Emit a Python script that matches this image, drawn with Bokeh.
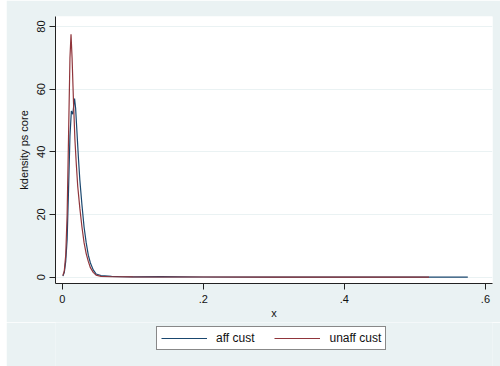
from bokeh.plotting import figure
from bokeh.models import FixedTicker, Legend, LegendItem
from bokeh.layouts import column
from bokeh.embed import file_html
from bokeh.resources import INLINE

# Kernel density of pscore, affected customers
aff_x = [0.001, 0.003, 0.005, 0.007, 0.009, 0.011, 0.013, 0.015, 0.0175, 0.019,
         0.021, 0.023, 0.025, 0.028, 0.031, 0.034, 0.037, 0.040, 0.044, 0.048,
         0.055, 0.060, 0.070, 0.085, 0.100, 0.140, 0.200, 0.300, 0.400, 0.500, 0.575]
aff_y = [0.3, 1.5, 5.0, 12.0, 28.0, 45.0, 53.0, 52.0, 57.0, 54.0,
         46.0, 38.0, 31.0, 23.0, 16.0, 11.0, 7.0, 4.5, 2.3, 1.0,
         0.5, 0.4, 0.2, 0.1, 0.05, 0.15, 0.02, 0.01, 0.01, 0.0, 0.0]

# Kernel density of pscore, unaffected customers
unaff_x = [0.001, 0.003, 0.005, 0.007, 0.009, 0.011, 0.0125, 0.014, 0.016, 0.018,
           0.020, 0.022, 0.025, 0.028, 0.031, 0.034, 0.037, 0.040, 0.044, 0.048,
           0.055, 0.070, 0.100, 0.200, 0.300, 0.400, 0.520]
unaff_y = [0.5, 2.0, 7.0, 20.0, 45.0, 70.0, 77.5, 70.0, 56.0, 44.0,
           36.0, 29.0, 22.0, 16.0, 11.0, 7.5, 5.0, 3.0, 1.5, 0.6,
           0.2, 0.1, 0.05, 0.02, 0.01, 0.0, 0.0]

x_ticks = [0, 0.2, 0.4, 0.6]
x_tick_labels = ["0", ".2", ".4", ".6"]
y_ticks = [0, 20, 40, 60, 80]
series_names = ["aff cust", "unaff cust"]

FONT = "Liberation Sans"
BG = "#eaf2f3"
NAVY = "#1a476f"
MAROON = "#90353b"

# ---- main chart ----
p = figure(width=494, height=322, output_backend="svg", toolbar_location=None,
           x_range=(-0.0095, 0.610), y_range=(-2.05, 83.2),
           min_border_left=49, min_border_right=8, min_border_top=16,
           min_border_bottom=39, margin=(0, 0, 0, 6))

p.background_fill_color = "white"
p.border_fill_color = BG
p.outline_line_color = None

p.line(aff_x, aff_y, line_color=NAVY, line_width=1.2)
p.line(unaff_x, unaff_y, line_color=MAROON, line_width=1.2)

p.xaxis.ticker = FixedTicker(ticks=x_ticks)
p.xaxis.major_label_overrides = {t: l for t, l in zip(x_ticks, x_tick_labels)}
p.yaxis.ticker = FixedTicker(ticks=y_ticks)
p.yaxis.major_label_orientation = "vertical"
p.xaxis.axis_label = "x"
p.yaxis.axis_label = "kdensity ps core"

for ax in (p.xaxis, p.yaxis):
    ax.axis_line_color = "#222222"
    ax.axis_line_width = 1
    ax.major_tick_line_color = "#222222"
    ax.major_tick_in = 0
    ax.major_tick_out = 6
    ax.minor_tick_line_color = None
    ax.major_label_text_font = FONT
    ax.major_label_text_font_size = "11px"
    ax.major_label_text_color = "#111111"
    ax.axis_label_text_font = FONT
    ax.axis_label_text_font_size = "11px"
    ax.axis_label_text_font_style = "normal"
    ax.axis_label_text_color = "#111111"

p.xaxis.major_label_standoff = 5
p.xaxis.axis_label_standoff = 1
p.yaxis.major_label_standoff = 4
p.yaxis.axis_label_standoff = 5

p.xgrid.grid_line_color = None
p.ygrid.grid_line_color = BG
p.ygrid.grid_line_width = 1

# ---- legend strip ----
lg = figure(width=494, height=44, output_backend="svg", toolbar_location=None,
            x_range=(10, 11), y_range=(10, 11),
            x_axis_location=None, y_axis_location=None,
            min_border=0, margin=(0, 0, 0, 6))
lg.background_fill_color = BG
lg.border_fill_color = BG
lg.outline_line_color = None
lg.grid.grid_line_color = None
l_aff = lg.line(aff_x, aff_y, line_color=NAVY, line_width=1.2)
l_unaff = lg.line(unaff_x, unaff_y, line_color=MAROON, line_width=1.2)

legend = Legend(items=[LegendItem(label=series_names[0], renderers=[l_aff]),
                       LegendItem(label=series_names[1], renderers=[l_unaff])],
                orientation="horizontal", location=(101, 16))
legend.border_line_color = "#111111"
legend.border_line_width = 1
legend.background_fill_color = "white"
legend.background_fill_alpha = 1
legend.label_text_font = FONT
legend.label_text_font_size = "12px"
legend.label_text_color = "#111111"
legend.glyph_width = 46
legend.glyph_height = 14
legend.label_standoff = 9
legend.spacing = 20
legend.padding = 4
legend.margin = 0
lg.add_layout(legend, "center")

layout = column(p, lg, spacing=0)
open("out.html", "w").write(file_html(layout, INLINE))
